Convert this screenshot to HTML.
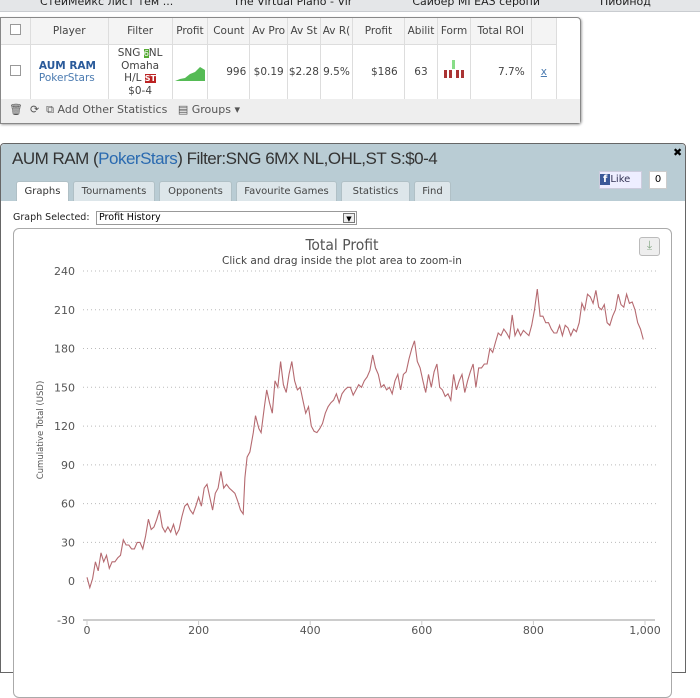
<!DOCTYPE html>
<html><head><meta charset="utf-8"><style>
*{box-sizing:border-box}
body{margin:0;width:700px;height:647px;overflow:hidden;background:#fff;font-family:"DejaVu Sans","Liberation Sans",sans-serif;position:relative}
.abs{position:absolute}
#bm{left:0;top:0;width:700px;height:12px;background:#e4e6e8;border-bottom:1px solid #c9ccd0;font-size:11px;color:#222;overflow:hidden;line-height:4px;white-space:nowrap}
#tbl{left:0;top:17px;width:581px;height:107px;border:1px solid #888;border-radius:0 4px 4px 0;background:#fff;box-shadow:1px 1px 2px #aaa}
table{border-collapse:collapse;font-size:10.5px;color:#444}
td{border-right:1px solid #ddd;text-align:center;padding:0}
#dlg{left:0;top:143px;width:686px;height:530px;background:#fff;border:1px solid #666;border-radius:4px 4px 0 0}
#dh{left:0;top:0;width:684px;height:57px;background:#b9ccd4;border-radius:4px 4px 0 0}
.tab{position:absolute;top:37px;height:20px;background:#dde6ea;border:1px solid #b0c0c6;border-bottom:none;font-size:10px;color:#444;text-align:center;line-height:19px;border-radius:3px 3px 0 0}
</style></head><body>
<div id="bm" class="abs"><span style="margin-left:40px">СтейМейкс лист тем ...</span><span style="margin-left:60px">The Virtual Piano - Vir</span><span style="margin-left:60px">Сайбер МГЕАЗ серопи</span><span style="margin-left:60px">Пибинод</span></div>
<div id="tbl" class="abs">
<table style="width:556px">
<tr style="height:26px;background:#f4f4f4;border-bottom:1px solid #ddd">
<td style="width:28px"><span style="display:inline-block;width:11px;height:11px;border:1px solid #999;background:#fff"></span></td>
<td style="width:74px">Player</td><td style="width:61px">Filter</td><td style="width:34px">Profit</td><td style="width:40px">Count</td><td style="width:36px">Av Pro</td><td style="width:30px">Av St</td><td style="width:31px">Av R(</td><td style="width:49px">Profit</td><td style="width:32px">Abilit</td><td style="width:31px">Form</td><td style="width:58px">Total ROI</td><td style="width:24px"></td></tr>
<tr style="height:56px;border-bottom:1px solid #ccc">
<td><span style="display:inline-block;width:11px;height:11px;border:1px solid #999"></span></td>
<td style="text-align:left;padding-left:8px"><b style="color:#2a5a9a">AUM RAM</b><br><span style="color:#4a7ab0">PokerStars</span></td>
<td style="line-height:12px">SNG <span style="background:#5a3;color:#fff;font-size:8px">6</span>NL<br>Omaha<br>H/L <span style="background:#b22;color:#fff;font-size:8px;font-weight:bold">ST</span><br>$0-4</td>
<td><svg width="30" height="20"><path d="M0,20 L5,18 L10,17 L15,13 L20,11 L25,6 L30,9 L30,20Z" fill="#5b5"/></svg></td>
<td style="text-align:right;padding-right:3px">996</td><td>$0.19</td><td>$2.28</td><td>9.5%</td><td style="text-align:right;padding-right:6px">$186</td><td>63</td>
<td><svg width="24" height="22"><rect x="10" y="0" width="3" height="9" fill="#8d8"/><rect x="2" y="10" width="3" height="8" fill="#a33"/><rect x="7" y="10" width="3" height="8" fill="#a33"/><rect x="14" y="10" width="3" height="8" fill="#a33"/><rect x="19" y="10" width="3" height="8" fill="#a33"/></svg></td>
<td style="text-align:right;padding-right:6px">7.7%</td><td style="color:#4a7ab0;text-decoration:underline">x</td></tr>
</table>
<div class="abs" style="left:0;top:81px;width:579px;height:24px;background:#eee;font-size:11px;color:#555;line-height:22px;padding-left:8px">🗑 &nbsp;⟳ &nbsp;<span>⧉ Add Other Statistics</span> &nbsp;&nbsp;<span>▤ Groups ▾</span></div>
</div>
<div id="dlg" class="abs">
<div id="dh" class="abs">
<div class="abs" style="left:11px;top:5px;font-family:'Liberation Sans',sans-serif;font-size:17px;color:#333;letter-spacing:-0.5px">AUM RAM (<span style="color:#2a6ab0">PokerStars</span>) Filter:SNG 6MX NL,OHL,ST S:$0-4</div>
<div class="abs" style="left:672px;top:2px;font-size:11px;font-weight:bold">✖</div>
<div class="abs" style="left:598px;top:27px;width:43px;height:18px;background:#eef;border:1px solid #ccd;font-size:10px;line-height:16px;color:#335"><span style="background:#3b5998;color:#fff;font-weight:bold;padding:0 3px">f</span>Like</div>
<div class="abs" style="left:648px;top:27px;width:18px;height:18px;background:#fff;border:1px solid #ccc;font-size:10px;text-align:center;line-height:16px">0</div>
<div class="tab" style="left:15px;width:53px;background:#fff;font-weight:normal;color:#333">Graphs</div>
<div class="tab" style="left:72px;width:82px">Tournaments</div>
<div class="tab" style="left:158px;width:73px">Opponents</div>
<div class="tab" style="left:235px;width:101px">Favourite Games</div>
<div class="tab" style="left:340px;width:69px">Statistics</div>
<div class="tab" style="left:413px;width:37px">Find</div>
</div>
<div class="abs" style="left:12px;top:68px;font-size:9.5px;color:#222">Graph Selected:</div>
<div class="abs" style="left:95px;top:67px;width:261px;height:14px;border:1px solid #999;font-size:9.5px;padding-left:2px;line-height:12px">Profit History<span style="position:absolute;right:1px;top:1px;width:12px;height:10px;border:1px solid #777;background:#eee;font-size:7px;text-align:center;line-height:10px">▼</span></div>
<div class="abs" style="left:12px;top:84px;width:659px;height:470px;border:1px solid #aaa;border-radius:6px;background:#fff"></div>
<div class="abs" style="left:638px;top:93px;width:21px;height:19px;border:1px solid #bbb;border-radius:3px;background:#eee;color:#8a8;text-align:center;font-size:12px">⤓</div>
</div>
<svg class="abs" id="chart" style="left:0;top:0" width="700" height="647">
<text x="342" y="250" text-anchor="middle" font-size="15.5" fill="#555" font-family="DejaVu Sans Condensed,DejaVu Sans,sans-serif">Total Profit</text>
<text x="342" y="264" text-anchor="middle" font-size="10.5" fill="#444">Click and drag inside the plot area to zoom-in</text>
<text transform="translate(43,430) rotate(-90)" text-anchor="middle" font-size="8.5" fill="#555">Cumulative Total (USD)</text>
<g id="grid"></g><g id="ticks"></g>
<line x1="83" y1="620" x2="655" y2="620" stroke="#ccc" stroke-width="2"/>
<path id="line" fill="none" stroke="#b56a70" stroke-width="1.1"/>
</svg>
<script>
const yTicks=[240,210,180,150,120,90,60,30,0,-30];
const xTicks=[0,200,400,600,800,1000];
const xTickLabels=["0","200","400","600","800","1,000"];
const games=[0,5,10,15,20,25,30,35,40,45,50,55,60,65,70,75,80,85,90,95,100,105,110,115,120,125,130,135,140,145,150,155,160,165,170,175,180,185,190,195,200,205,210,215,220,225,230,235,240,245,250,255,260,265,270,275,280,283,287,292,298,302,308,312,318,322,327,332,337,342,347,352,357,362,367,372,377,382,387,392,397,402,407,412,417,422,427,432,437,442,447,452,457,462,467,472,477,482,487,492,497,502,507,512,517,522,527,532,537,542,547,552,557,562,567,572,577,582,587,592,597,602,607,612,617,622,627,632,637,642,647,652,657,662,667,672,677,682,687,692,697,702,707,712,717,722,727,732,737,742,747,752,757,762,767,772,777,782,787,792,797,802,807,812,817,822,827,832,837,842,847,852,857,862,867,872,877,882,887,892,897,902,907,912,917,922,927,932,937,942,947,952,957,962,967,972,977,982,987,992,997];
const profit=[3,-5,2,15,8,22,15,20,10,15,15,18,20,32,28,28,25,25,30,30,25,35,48,40,42,48,55,42,38,42,38,44,36,40,50,58,60,55,52,58,65,58,72,75,65,55,68,72,85,72,75,72,70,68,62,55,52,80,96,100,115,128,118,115,135,148,138,130,155,150,170,152,146,160,170,155,148,150,140,130,135,120,116,115,118,122,130,135,138,140,145,138,145,148,150,150,144,148,152,150,155,158,163,175,165,160,150,152,148,150,145,155,160,148,160,162,172,180,186,170,165,155,146,160,150,162,168,150,148,143,145,140,160,148,155,160,146,155,162,168,150,165,165,168,168,180,177,185,192,190,195,192,188,206,190,195,190,194,192,190,198,210,226,205,205,200,200,195,192,192,198,190,198,196,190,195,193,200,215,210,222,220,215,225,212,210,214,200,198,205,210,222,214,212,222,215,216,210,200,195,187];
const X=v=>87+v*0.558, Y=v=>581.2-v*1.2926;
const NS="http://www.w3.org/2000/svg";
const grid=document.getElementById('grid'),ticks=document.getElementById('ticks');
yTicks.forEach(t=>{
 if(t>-30){const l=document.createElementNS(NS,'line');
 l.setAttribute('x1',83);l.setAttribute('x2',657);l.setAttribute('y1',Y(t));l.setAttribute('y2',Y(t));
 l.setAttribute('stroke','#bbb');l.setAttribute('stroke-dasharray','1,3');
 
 
 grid.appendChild(l);}
 const tx=document.createElementNS(NS,'text');
 tx.setAttribute('x',75);tx.setAttribute('y',Y(t)+4);tx.setAttribute('text-anchor','end');
 tx.setAttribute('font-size','11');tx.setAttribute('fill','#555');tx.textContent=t;
 
 
 ticks.appendChild(tx);
});
xTicks.forEach((t,i)=>{
 const l=document.createElementNS(NS,'line');
 l.setAttribute('x1',X(t));l.setAttribute('x2',X(t));l.setAttribute('y1',620);l.setAttribute('y2',625);l.setAttribute('stroke','#ccc');
 
 
 ticks.appendChild(l);
 const tx=document.createElementNS(NS,'text');
 tx.setAttribute('x',X(t));tx.setAttribute('y',634);tx.setAttribute('text-anchor','middle');
 tx.setAttribute('font-size','11');tx.setAttribute('fill','#555');tx.textContent=xTickLabels[i];
 
 
 ticks.appendChild(tx);
});
document.getElementById('line').setAttribute('d',games.map((g,i)=>(i?'L':'M')+X(g).toFixed(1)+','+Y(profit[i]).toFixed(1)).join(''));
</script>
</body></html>
